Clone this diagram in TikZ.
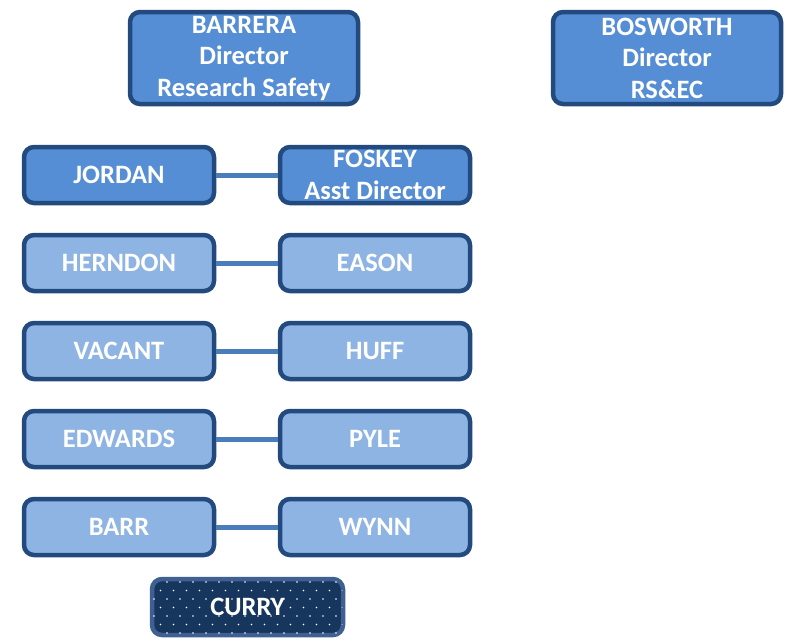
\documentclass[tikz,border=0pt]{standalone}
\usepackage{fontspec}
\setmainfont{Carlito}
\definecolor{bord}{HTML}{234A7E}
\definecolor{topfill}{HTML}{558ED5}
\definecolor{lowfill}{HTML}{8EB4E3}
\definecolor{linkc}{HTML}{4A7EBB}
\definecolor{curryfill}{HTML}{17365D}
\definecolor{curryborder}{HTML}{3F6192}
\tikzset{
  box/.style={draw=bord, line width=4.5pt, rounded corners=10pt, text=white,
    align=center, inner sep=0pt, font=\fontsize{26.5}{31.5}\selectfont\bfseries},
  topbox/.style={box, fill=topfill, minimum width=228pt, minimum height=92pt},
  midbox/.style={box, fill=topfill, minimum width=190pt, minimum height=56pt},
  lowbox/.style={box, fill=lowfill, minimum width=190pt, minimum height=56pt},
  link/.style={draw=linkc, line width=5pt},
}
\begin{document}
\begin{tikzpicture}[x=1pt,y=-1pt]
\useasboundingbox (0,0) rectangle (795,641);
\node[topbox] (barrera) at (244,58) {BARRERA\\Director\\Research Safety};
\node[topbox] (bosworth) at (667,58) {BOSWORTH\\Director\\RS\&EC};

\node[midbox] (jordan) at (119,175) {JORDAN};
\node[midbox] (foskey) at (375,175) {FOSKEY\\Asst Director};
\node[lowbox] (herndon) at (119,263) {HERNDON};
\node[lowbox] (eason) at (375,263) {EASON};
\node[lowbox] (vacant) at (119,351) {VACANT};
\node[lowbox] (huff) at (375,351) {HUFF};
\node[lowbox] (edwards) at (119,439) {EDWARDS};
\node[lowbox] (pyle) at (375,439) {PYLE};
\node[lowbox] (barr) at (119,527) {BARR};
\node[lowbox] (wynn) at (375,527) {WYNN};

\draw[link] (jordan.east) -- (foskey.west);
\draw[link] (herndon.east) -- (eason.west);
\draw[link] (vacant.east) -- (huff.west);
\draw[link] (edwards.east) -- (pyle.west);
\draw[link] (barr.east) -- (wynn.west);

% CURRY with dotted pattern
\node[box, draw=curryborder, fill=curryfill, minimum width=191pt, minimum height=56pt] (curryframe) at (247.5,607) {};
\begin{scope}
  \clip[rounded corners=8pt] ([xshift=3pt,yshift=-3pt]curryframe.north west) rectangle ([xshift=-3pt,yshift=3pt]curryframe.south east);
  \foreach \r in {0,...,7} {
    \pgfmathsetmacro{\yy}{582+\r*8.5}
    \pgfmathsetmacro{\off}{mod(\r,2)*6.5}
    \foreach \c in {0,...,16} {
      \fill[white] (154+\off+\c*13,\yy) circle (0.9pt);
    }
  }
\end{scope}
\node[text=white, font=\fontsize{26.5}{31.5}\selectfont\bfseries] (curry) at (curryframe.center) {CURRY};
\end{tikzpicture}
\end{document}
